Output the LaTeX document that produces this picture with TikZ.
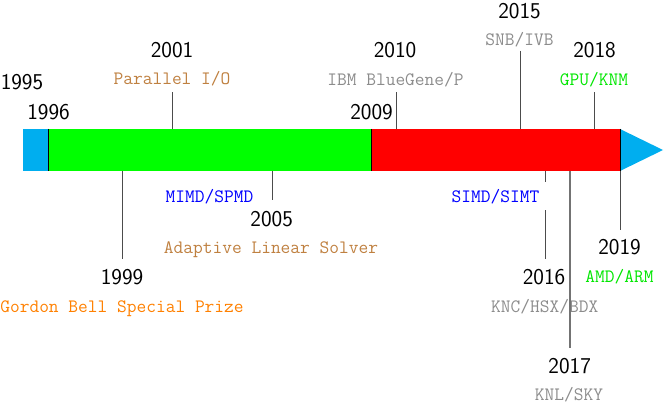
\documentclass[tikz,border=0pt]{standalone}
\usetikzlibrary{positioning}
\definecolor{barcyan}{RGB}{0,174,239}
\definecolor{bargreen}{RGB}{0,255,0}
\definecolor{barred}{RGB}{255,0,0}
\definecolor{txtbrown}{RGB}{191,128,64}
\definecolor{txtorange}{RGB}{255,128,0}
\definecolor{txtgray}{RGB}{140,140,140}
\definecolor{txtblue}{RGB}{0,0,255}
\definecolor{txtgreen}{RGB}{0,230,0}
\begin{document}
\begin{tikzpicture}[x=1pt,y=-1pt,
  yr/.style={font=\sffamily\fontsize{22.6}{24}\selectfont, inner sep=0pt, text height=14.8pt, text depth=0pt, anchor=center},
  ev/.style={font=\ttfamily\fontsize{18.9}{20}\selectfont, inner sep=0pt, text height=11.7pt, text depth=0pt, anchor=center},
  tick/.style={draw=black!70, line width=1pt},
  sep/.style={draw=black, line width=1pt}]
\useasboundingbox (0,0) rectangle (665,404);
% bar
\fill[barcyan] (23,129) rectangle (48.7,171);
\fill[bargreen] (48.7,129) rectangle (371.3,171);
\fill[barred] (371.3,129) rectangle (620,171);
\fill[barcyan] (620,129) -- (663,150) -- (620,171) -- cycle;
\coordinate (b1a) at (48.7,129); \coordinate (b1b) at (48.7,171);
\coordinate (b2a) at (371.3,129); \coordinate (b2b) at (371.3,171);
\coordinate (b3a) at (620,129); \coordinate (b3b) at (620,171);
\draw[sep] (b1a) -- (b1b);
\draw[sep] (b2a) -- (b2b);
\draw[sep] (b3a) -- (b3b);
% labels above
\node[yr] (y1995) at (22,82) {1995};
\node[yr] (y1996) at (48.5,112) {1996};
\node[yr] (y2001) at (172,50) {2001};
\node[ev, text=txtbrown] (e2001) at (172,79) {Parallel I/O};
\node[yr] (y2009) at (371.5,112) {2009};
\node[yr] (y2010) at (395,50) {2010};
\node[ev, text=txtgray] (e2010) at (395.5,80) {IBM BlueGene/P};
\node[yr] (y2015) at (519.5,11) {2015};
\node[ev, text=txtgray] (e2015) at (519.5,40) {SNB/IVB};
\node[yr] (y2018) at (594.5,50) {2018};
\node[ev, text=txtgreen] (e2018) at (594,80) {GPU/KNM};
% labels below
\node[ev, text=txtblue] (e2005a) at (209.5,196.5) {MIMD/SPMD};
\node[yr] (y2005) at (271.7,219) {2005};
\node[ev, text=txtbrown] (e2005) at (271,248) {Adaptive Linear Solver};
\node[yr] (y1999) at (122,277.5) {1999};
\node[ev, text=txtorange] (e1999) at (122,306.5) {Gordon Bell Special Prize};
\node[ev, text=txtblue] (e2016a) at (495.5,196.5) {SIMD/SIMT};
\node[yr] (y2016) at (544,277.5) {2016};
\node[ev, text=txtgray] (e2016) at (544.7,306.5) {KNC/HSX/BDX};
\node[yr] (y2017) at (569.7,366) {2017};
\node[ev, text=txtgray] (e2017) at (569,394.5) {KNL/SKY};
\node[yr] (y2019) at (619.5,247.5) {2019};
\node[ev, text=txtgreen] (e2019) at (619.5,277) {AMD/ARM};
% tick coordinates
\coordinate (t2001a) at (172,92.5); \coordinate (t2001b) at (172,129);
\coordinate (t2010a) at (396,92.5); \coordinate (t2010b) at (396,129);
\coordinate (t2015a) at (520,51); \coordinate (t2015b) at (520,129);
\coordinate (t2018a) at (594.7,92.5); \coordinate (t2018b) at (594.7,129);
\coordinate (t1999a) at (122,171); \coordinate (t1999b) at (122,259);
\coordinate (t2005a) at (272,171); \coordinate (t2005b) at (272,200);
\coordinate (t2016a) at (545,171); \coordinate (t2016b) at (545,181.5);
\coordinate (t2016c) at (545,210); \coordinate (t2016d) at (545,259);
\coordinate (t2017a) at (570,171); \coordinate (t2017b) at (570,348);
\coordinate (t2019b) at (620,230);
\draw[tick] (t2001a) -- (t2001b);
\draw[tick] (t2010a) -- (t2010b);
\draw[tick] (t2015a) -- (t2015b);
\draw[tick] (t2018a) -- (t2018b);
\draw[tick] (t1999a) -- (t1999b);
\draw[tick] (t2005a) -- (t2005b);
\draw[tick] (t2016a) -- (t2016b);
\draw[tick] (t2016c) -- (t2016d);
\draw[tick, draw=black!55, line width=1.3pt] (t2017a) -- (t2017b);
\draw[tick] (b3b) -- (t2019b);
\end{tikzpicture}
\end{document}
